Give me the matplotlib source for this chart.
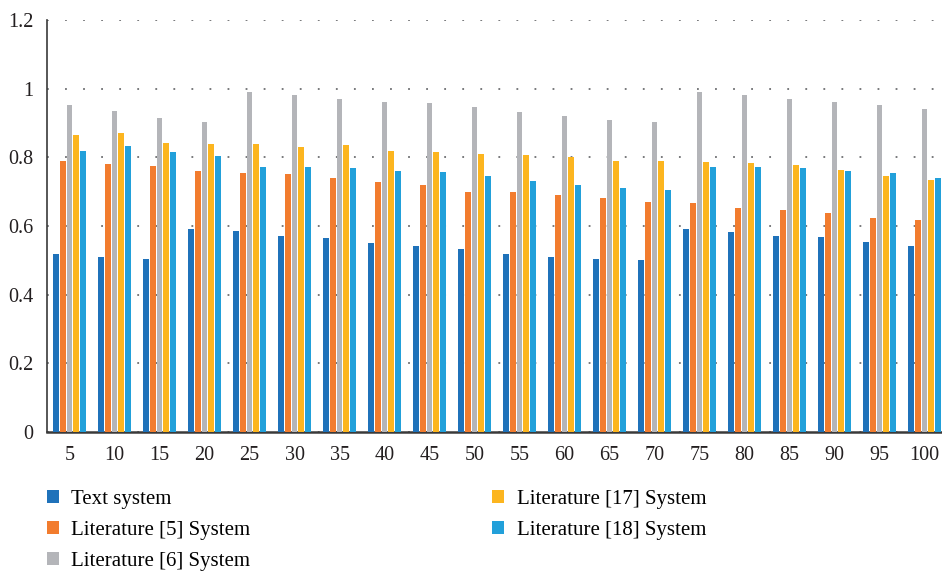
import matplotlib.pyplot as plt
import numpy as np

plt.rcParams['font.family'] = ['Liberation Serif', 'DejaVu Serif']

groups = ['5', '10', '15', '20', '25', '30', '35', '40', '45', '50',
          '55', '60', '65', '70', '75', '80', '85', '90', '95', '100']

text_system = [0.519, 0.510, 0.504, 0.592, 0.586, 0.571, 0.566, 0.551, 0.542, 0.534,
               0.519, 0.510, 0.504, 0.501, 0.592, 0.583, 0.571, 0.569, 0.554, 0.542]
lit5 = [0.790, 0.781, 0.776, 0.761, 0.755, 0.752, 0.741, 0.729, 0.720, 0.700,
        0.700, 0.691, 0.682, 0.671, 0.668, 0.653, 0.647, 0.638, 0.624, 0.618]
lit6 = [0.953, 0.936, 0.915, 0.904, 0.991, 0.983, 0.971, 0.962, 0.959, 0.948,
        0.933, 0.921, 0.910, 0.904, 0.991, 0.983, 0.971, 0.962, 0.953, 0.942]
lit17 = [0.866, 0.872, 0.843, 0.840, 0.840, 0.831, 0.837, 0.819, 0.816, 0.810,
         0.808, 0.802, 0.790, 0.790, 0.787, 0.784, 0.778, 0.764, 0.746, 0.735]
lit18 = [0.819, 0.834, 0.816, 0.805, 0.773, 0.773, 0.770, 0.761, 0.758, 0.746,
         0.732, 0.720, 0.711, 0.706, 0.773, 0.773, 0.770, 0.761, 0.755, 0.741]

series = [text_system, lit5, lit6, lit17, lit18]
names = ['Text system', 'Literature [5] System', 'Literature [6] System',
         'Literature [17] System', 'Literature [18] System']
colors = ['#1F72BA', '#F27C2E', '#B4B5B9', '#FCB51F', '#22A0DA']

fig = plt.figure(figsize=(9.42, 5.73), dpi=100)
ax = fig.add_axes([47 / 942, 1 - 432 / 573, 900 / 942, 412 / 573])

x = np.arange(len(groups))
w = 0.148
for i, (vals, name, c) in enumerate(zip(series, names, colors)):
    ax.bar(x + (i - 2) * w, vals, width=w * 0.9, color=c, label=name, zorder=3)

ax.set_xlim(-0.5, len(groups) - 0.5)
ax.set_ylim(0, 1.2)
ax.set_yticks([0, 0.2, 0.4, 0.6, 0.8, 1.0, 1.2])
ax.set_yticklabels(['0', '0.2', '0.4', '0.6', '0.8', '1', '1.2'])
ax.set_xticks(x)
ax.set_xticklabels(groups)
ax.tick_params(length=0, labelsize=14.5, colors='#231F20')
ax.tick_params(axis='x', pad=10)
ax.tick_params(axis='y', pad=10)

# dotted horizontal grid
ax.yaxis.grid(True, linestyle=(0, (1, 9)), color='#6D6E71', linewidth=1.3)
ax.set_axisbelow(True)
for s in ['top', 'right']:
    ax.spines[s].set_visible(False)
ax.spines['left'].set_color('#3A3A3A')
ax.spines['bottom'].set_color('#3A3A3A')
ax.spines['left'].set_linewidth(1.2)
ax.spines['bottom'].set_linewidth(1.8)

fig.legend(loc='upper left', bbox_to_anchor=(0.05, 0.145), ncol=2, frameon=False,
           fontsize=15, handlelength=0.55, handleheight=0.55, handletextpad=0.62,
           columnspacing=11.6, labelspacing=0.57, borderaxespad=0, borderpad=0)

fig.savefig('out.png', dpi=100)
